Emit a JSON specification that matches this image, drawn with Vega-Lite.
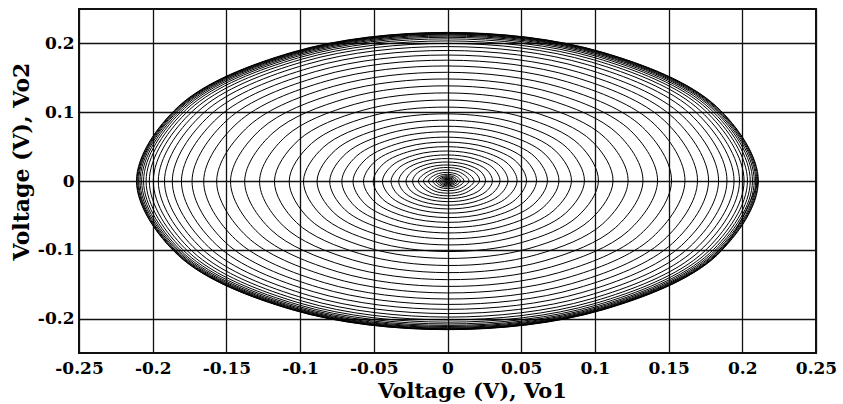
{
"$schema": "https://vega.github.io/schema/vega-lite/v6.json",
"width": 737, "height": 344,
"autosize": {"type": "none"},
"padding": {"left": 79, "top": 9, "right": 27, "bottom": 51},
"background": "white",
"config": {"view": {"stroke": "#111", "strokeWidth": 2}},
"data": {"values": [
{"i":0,"x":0.0010,"y":0},{"i":1,"x":0.0005,"y":0.0010},{"i":2,"x":-0.0006,"y":0.0010},{"i":3,"x":-0.0013,"y":0},{"i":4,"x":-0.0007,"y":-0.0012},{"i":5,"x":0.0007,"y":-0.0013},
{"i":6,"x":0.0015,"y":0},{"i":7,"x":0.0008,"y":0.0014},{"i":8,"x":-0.0008,"y":0.0015},{"i":9,"x":-0.0018,"y":0},{"i":10,"x":-0.0009,"y":-0.0016},{"i":11,"x":0.0010,"y":-0.0017},
{"i":12,"x":0.0020,"y":0},{"i":13,"x":0.0011,"y":0.0019},{"i":14,"x":-0.0011,"y":0.0020},{"i":15,"x":-0.0024,"y":0},{"i":16,"x":-0.0012,"y":-0.0022},{"i":17,"x":0.0013,"y":-0.0023},
{"i":18,"x":0.0027,"y":0},{"i":19,"x":0.0014,"y":0.0025},{"i":20,"x":-0.0015,"y":0.0026},{"i":21,"x":-0.0031,"y":0},{"i":22,"x":-0.0016,"y":-0.0029},{"i":23,"x":0.0017,"y":-0.0030},
{"i":24,"x":0.0035,"y":0},{"i":25,"x":0.0018,"y":0.0033},{"i":26,"x":-0.0019,"y":0.0034},{"i":27,"x":-0.0040,"y":0},{"i":28,"x":-0.0021,"y":-0.0037},{"i":29,"x":0.0022,"y":-0.0038},
{"i":30,"x":0.0045,"y":0},{"i":31,"x":0.0023,"y":0.0041},{"i":32,"x":-0.0024,"y":0.0043},{"i":33,"x":-0.0051,"y":0},{"i":34,"x":-0.0026,"y":-0.0047},{"i":35,"x":0.0027,"y":-0.0048},
{"i":36,"x":0.0056,"y":0},{"i":37,"x":0.0029,"y":0.0052},{"i":38,"x":-0.0030,"y":0.0054},{"i":39,"x":-0.0063,"y":0},{"i":40,"x":-0.0033,"y":-0.0058},{"i":41,"x":0.0034,"y":-0.0060},
{"i":42,"x":0.0070,"y":0},{"i":43,"x":0.0036,"y":0.0065},{"i":44,"x":-0.0038,"y":0.0067},{"i":45,"x":-0.0079,"y":0},{"i":46,"x":-0.0041,"y":-0.0073},{"i":47,"x":0.0043,"y":-0.0076},
{"i":48,"x":0.0088,"y":0},{"i":49,"x":0.0046,"y":0.0082},{"i":50,"x":-0.0048,"y":0.0085},{"i":51,"x":-0.0100,"y":0},{"i":52,"x":-0.0052,"y":-0.0092},{"i":53,"x":0.0054,"y":-0.0096},
{"i":54,"x":0.0112,"y":0},{"i":55,"x":0.0059,"y":0.0104},{"i":56,"x":-0.0062,"y":0.0109},{"i":57,"x":-0.0129,"y":0},{"i":58,"x":-0.0067,"y":-0.0119},{"i":59,"x":0.0070,"y":-0.0124},
{"i":60,"x":0.0146,"y":0},{"i":61,"x":0.0076,"y":0.0134},{"i":62,"x":-0.0079,"y":0.0139},{"i":63,"x":-0.0163,"y":0},{"i":64,"x":-0.0084,"y":-0.0149},{"i":65,"x":0.0087,"y":-0.0154},
{"i":66,"x":0.0180,"y":0},{"i":67,"x":0.0093,"y":0.0165},{"i":68,"x":-0.0096,"y":0.0170},{"i":69,"x":-0.0198,"y":0},{"i":70,"x":-0.0102,"y":-0.0182},{"i":71,"x":0.0105,"y":-0.0187},
{"i":72,"x":0.0217,"y":0},{"i":73,"x":0.0191,"y":0.0113},{"i":74,"x":0.0112,"y":0.0199},{"i":75,"x":0,"y":0.0233},{"i":76,"x":-0.0115,"y":0.0205},{"i":77,"x":-0.0203,"y":0.0120},{"i":78,"x":-0.0237,"y":0},{"i":79,"x":-0.0209,"y":-0.0123},{"i":80,"x":-0.0122,"y":-0.0217},{"i":81,"x":0,"y":-0.0254},{"i":82,"x":0.0126,"y":-0.0223},{"i":83,"x":0.0220,"y":-0.0130},
{"i":84,"x":0.0258,"y":0},{"i":85,"x":0.0227,"y":0.0134},{"i":86,"x":0.0133,"y":0.0236},{"i":87,"x":0,"y":0.0276},{"i":88,"x":-0.0137,"y":0.0243},{"i":89,"x":-0.0240,"y":0.0142},{"i":90,"x":-0.0282,"y":0},{"i":91,"x":-0.0247,"y":-0.0146},{"i":92,"x":-0.0145,"y":-0.0257},{"i":93,"x":0,"y":-0.0300},{"i":94,"x":0.0149,"y":-0.0264},{"i":95,"x":0.0261,"y":-0.0154},
{"i":96,"x":0.0305,"y":0},{"i":97,"x":0.0268,"y":0.0158},{"i":98,"x":0.0157,"y":0.0278},{"i":99,"x":0,"y":0.0326},{"i":100,"x":-0.0161,"y":0.0286},{"i":101,"x":-0.0283,"y":0.0167},{"i":102,"x":-0.0331,"y":0},{"i":103,"x":-0.0290,"y":-0.0172},{"i":104,"x":-0.0170,"y":-0.0301},{"i":105,"x":0,"y":-0.0352},{"i":106,"x":0.0174,"y":-0.0308},{"i":107,"x":0.0305,"y":-0.0180},
{"i":108,"x":0.0356,"y":0},{"i":109,"x":0.0312,"y":0.0185},{"i":110,"x":0.0183,"y":0.0324},{"i":111,"x":0,"y":0.0379},{"i":112,"x":-0.0187,"y":0.0332},{"i":113,"x":-0.0328,"y":0.0194},{"i":114,"x":-0.0383,"y":0},{"i":115,"x":-0.0336,"y":-0.0199},{"i":116,"x":-0.0196,"y":-0.0348},{"i":117,"x":0,"y":-0.0406},{"i":118,"x":0.0201,"y":-0.0356},{"i":119,"x":0.0351,"y":-0.0208},
{"i":120,"x":0.0410,"y":0},{"i":121,"x":0.0360,"y":0.0213},{"i":122,"x":0.0210,"y":0.0373},{"i":123,"x":0,"y":0.0436},{"i":124,"x":-0.0215,"y":0.0382},{"i":125,"x":-0.0377,"y":0.0223},{"i":126,"x":-0.0441,"y":0},{"i":127,"x":-0.0386,"y":-0.0228},{"i":128,"x":-0.0226,"y":-0.0400},{"i":129,"x":0,"y":-0.0467},{"i":130,"x":0.0231,"y":-0.0409},{"i":131,"x":0.0404,"y":-0.0239},
{"i":132,"x":0.0472,"y":0},{"i":133,"x":0.0413,"y":0.0244},{"i":134,"x":0.0241,"y":0.0428},{"i":135,"x":0,"y":0.0499},{"i":136,"x":-0.0247,"y":0.0437},{"i":137,"x":-0.0432,"y":0.0255},{"i":138,"x":-0.0504,"y":0},{"i":139,"x":-0.0441,"y":-0.0261},{"i":140,"x":-0.0257,"y":-0.0456},{"i":141,"x":0,"y":-0.0532},{"i":142,"x":0.0263,"y":-0.0466},{"i":143,"x":0.0460,"y":-0.0272},
{"i":144,"x":0.0536,"y":0},{"i":145,"x":0.0469,"y":0.0277},{"i":146,"x":0.0274,"y":0.0485},{"i":147,"x":0,"y":0.0566},{"i":148,"x":-0.0279,"y":0.0495},{"i":149,"x":-0.0489,"y":0.0289},{"i":150,"x":-0.0570,"y":0},{"i":151,"x":-0.0498,"y":-0.0295},{"i":152,"x":-0.0291,"y":-0.0515},{"i":153,"x":0,"y":-0.0601},{"i":154,"x":0.0296,"y":-0.0525},{"i":155,"x":0.0518,"y":-0.0306},
{"i":156,"x":0.0604,"y":0},{"i":157,"x":0.0528,"y":0.0312},{"i":158,"x":0.0308,"y":0.0546},{"i":159,"x":0,"y":0.0637},{"i":160,"x":-0.0314,"y":0.0558},{"i":161,"x":-0.0550,"y":0.0325},{"i":162,"x":-0.0641,"y":0},{"i":163,"x":-0.0561,"y":-0.0331},{"i":164,"x":-0.0327,"y":-0.0580},{"i":165,"x":0,"y":-0.0676},{"i":166,"x":0.0333,"y":-0.0591},{"i":167,"x":0.0582,"y":-0.0344},
{"i":168,"x":0.0678,"y":0},{"i":169,"x":0.0593,"y":0.0351},{"i":170,"x":0.0346,"y":0.0613},{"i":171,"x":0,"y":0.0715},{"i":172,"x":-0.0352,"y":0.0625},{"i":173,"x":-0.0616,"y":0.0364},{"i":174,"x":-0.0717,"y":0},{"i":175,"x":-0.0627,"y":-0.0371},{"i":176,"x":-0.0365,"y":-0.0648},{"i":177,"x":0,"y":-0.0755},{"i":178,"x":0.0372,"y":-0.0659},{"i":179,"x":0.0649,"y":-0.0384},
{"i":180,"x":0.0756,"y":0},{"i":181,"x":0.0661,"y":0.0391},{"i":182,"x":0.0385,"y":0.0683},{"i":183,"x":0,"y":0.0796},{"i":184,"x":-0.0392,"y":0.0696},{"i":185,"x":-0.0686,"y":0.0405},{"i":186,"x":-0.0799,"y":0},{"i":187,"x":-0.0698,"y":-0.0413},{"i":188,"x":-0.0406,"y":-0.0721},{"i":189,"x":0,"y":-0.0840},{"i":190,"x":0.0414,"y":-0.0733},{"i":191,"x":0.0722,"y":-0.0427},
{"i":192,"x":0.0841,"y":0},{"i":193,"x":0.0735,"y":0.0434},{"i":194,"x":0.0428,"y":0.0759},{"i":195,"x":0,"y":0.0884},{"i":196,"x":-0.0435,"y":0.0772},{"i":197,"x":-0.0760,"y":0.0450},{"i":198,"x":-0.0885,"y":0},{"i":199,"x":-0.0773,"y":-0.0457},{"i":200,"x":-0.0450,"y":-0.0798},{"i":201,"x":0,"y":-0.0929},{"i":202,"x":0.0457,"y":-0.0811},{"i":203,"x":0.0799,"y":-0.0472},
{"i":204,"x":0.0929,"y":0},{"i":205,"x":0.0812,"y":0.0480},{"i":206,"x":0.0473,"y":0.0838},{"i":207,"x":0,"y":0.0976},{"i":208,"x":-0.0481,"y":0.0852},{"i":209,"x":-0.0839,"y":0.0496},{"i":210,"x":-0.0977,"y":0},{"i":211,"x":-0.0853,"y":-0.0504},{"i":212,"x":-0.0496,"y":-0.0880},{"i":213,"x":0,"y":-0.1025},{"i":214,"x":0.0504,"y":-0.0894},{"i":215,"x":0.0880,"y":-0.0520},
{"i":216,"x":0.1024,"y":0},{"i":217,"x":0.0894,"y":0.0529},{"i":218,"x":0.0520,"y":0.0923},{"i":219,"x":0,"y":0.1074},{"i":220,"x":-0.0529,"y":0.0938},{"i":221,"x":-0.0923,"y":0.0545},{"i":222,"x":-0.1074,"y":0},{"i":223,"x":-0.0937,"y":-0.0554},{"i":224,"x":-0.0545,"y":-0.0967},{"i":225,"x":0,"y":-0.1125},{"i":226,"x":0.0553,"y":-0.0981},{"i":227,"x":0.0965,"y":-0.0571},
{"i":228,"x":0.1123,"y":0},{"i":229,"x":0.0980,"y":0.0579},{"i":230,"x":0.0570,"y":0.1011},{"i":231,"x":0,"y":0.1176},{"i":232,"x":-0.0578,"y":0.1026},{"i":233,"x":-0.1009,"y":0.0597},{"i":234,"x":-0.1174,"y":0},{"i":235,"x":-0.1024,"y":-0.0605},{"i":236,"x":-0.0595,"y":-0.1056},{"i":237,"x":0,"y":-0.1228},{"i":238,"x":0.0604,"y":-0.1071},{"i":239,"x":0.1053,"y":-0.0623},
{"i":240,"x":0.1225,"y":0},{"i":241,"x":0.1068,"y":0.0631},{"i":242,"x":0.0621,"y":0.1101},{"i":243,"x":0,"y":0.1280},{"i":244,"x":-0.0629,"y":0.1116},{"i":245,"x":-0.1097,"y":0.0649},{"i":246,"x":-0.1275,"y":0},{"i":247,"x":-0.1112,"y":-0.0657},{"i":248,"x":-0.0646,"y":-0.1146},{"i":249,"x":0,"y":-0.1332},{"i":250,"x":0.0655,"y":-0.1161},{"i":251,"x":0.1141,"y":-0.0675},
{"i":252,"x":0.1326,"y":0},{"i":253,"x":0.1156,"y":0.0683},{"i":254,"x":0.0671,"y":0.1191},{"i":255,"x":0,"y":0.1383},{"i":256,"x":-0.0680,"y":0.1205},{"i":257,"x":-0.1184,"y":0.0700},{"i":258,"x":-0.1376,"y":0},{"i":259,"x":-0.1198,"y":-0.0708},{"i":260,"x":-0.0696,"y":-0.1234},{"i":261,"x":0,"y":-0.1434},{"i":262,"x":0.0704,"y":-0.1249},{"i":263,"x":0.1227,"y":-0.0725},
{"i":264,"x":0.1425,"y":0},{"i":265,"x":0.1241,"y":0.0734},{"i":266,"x":0.0720,"y":0.1277},{"i":267,"x":0,"y":0.1483},{"i":268,"x":-0.0728,"y":0.1292},{"i":269,"x":-0.1268,"y":0.0750},{"i":270,"x":-0.1472,"y":0},{"i":271,"x":-0.1282,"y":-0.0758},{"i":272,"x":-0.0744,"y":-0.1320},{"i":273,"x":0,"y":-0.1532},{"i":274,"x":0.0752,"y":-0.1334},{"i":275,"x":0.1309,"y":-0.0774},
{"i":276,"x":0.1520,"y":0},{"i":277,"x":0.1323,"y":0.0782},{"i":278,"x":0.0767,"y":0.1361},{"i":279,"x":0,"y":0.1580},{"i":280,"x":-0.0775,"y":0.1375},{"i":281,"x":-0.1349,"y":0.0798},{"i":282,"x":-0.1566,"y":0},{"i":283,"x":-0.1362,"y":-0.0805},{"i":284,"x":-0.0790,"y":-0.1402},{"i":285,"x":0,"y":-0.1627},{"i":286,"x":0.0798,"y":-0.1415},{"i":287,"x":0.1389,"y":-0.0821},
{"i":288,"x":0.1611,"y":0},{"i":289,"x":0.1402,"y":0.0829},{"i":290,"x":0.0813,"y":0.1441},{"i":291,"x":0,"y":0.1672},{"i":292,"x":-0.0820,"y":0.1454},{"i":293,"x":-0.1426,"y":0.0843},{"i":294,"x":-0.1654,"y":0},{"i":295,"x":-0.1438,"y":-0.0850},{"i":296,"x":-0.0834,"y":-0.1479},{"i":297,"x":0,"y":-0.1715},{"i":298,"x":0.0841,"y":-0.1492},{"i":299,"x":0.1463,"y":-0.0865},
{"i":300,"x":0.1696,"y":0},{"i":301,"x":0.1474,"y":0.0872},{"i":302,"x":0.0854,"y":0.1515},{"i":303,"x":0,"y":0.1756},{"i":304,"x":-0.0860,"y":0.1526},{"i":305,"x":-0.1496,"y":0.0884},{"i":306,"x":-0.1733,"y":0},{"i":307,"x":-0.1507,"y":-0.0891},{"i":308,"x":-0.0873,"y":-0.1548},{"i":309,"x":0,"y":-0.1794},{"i":310,"x":0.0879,"y":-0.1559},{"i":311,"x":0.1528,"y":-0.0903},
{"i":312,"x":0.1771,"y":0},{"i":313,"x":0.1538,"y":0.0909},{"i":314,"x":0.0891,"y":0.1580},{"i":315,"x":0,"y":0.1831},{"i":316,"x":-0.0897,"y":0.1590},{"i":317,"x":-0.1558,"y":0.0921},{"i":318,"x":-0.1805,"y":0},{"i":319,"x":-0.1568,"y":-0.0927},{"i":320,"x":-0.0908,"y":-0.1610},{"i":321,"x":0,"y":-0.1865},{"i":322,"x":0.0914,"y":-0.1620},{"i":323,"x":0.1587,"y":-0.0938},
{"i":324,"x":0.1839,"y":0},{"i":325,"x":0.1596,"y":0.0944},{"i":326,"x":0.0924,"y":0.1639},{"i":327,"x":0,"y":0.1897},{"i":328,"x":-0.0929,"y":0.1647},{"i":329,"x":-0.1613,"y":0.0954},{"i":330,"x":-0.1867,"y":0},{"i":331,"x":-0.1621,"y":-0.0959},{"i":332,"x":-0.0938,"y":-0.1665},{"i":333,"x":0,"y":-0.1927},{"i":334,"x":0.0943,"y":-0.1673},{"i":335,"x":0.1638,"y":-0.0968},
{"i":336,"x":0.1896,"y":0},{"i":337,"x":0.1646,"y":0.0973},{"i":338,"x":0.0952,"y":0.1689},{"i":339,"x":0,"y":0.1954},{"i":340,"x":-0.0956,"y":0.1696},{"i":341,"x":-0.1659,"y":0.0981},{"i":342,"x":-0.1920,"y":0},{"i":343,"x":-0.1666,"y":-0.0985},{"i":344,"x":-0.0964,"y":-0.1710},{"i":345,"x":0,"y":-0.1978},{"i":346,"x":0.0968,"y":-0.1717},{"i":347,"x":0.1680,"y":-0.0993},
{"i":348,"x":0.1944,"y":0},{"i":349,"x":0.1686,"y":0.0997},{"i":350,"x":0.0975,"y":0.1729},{"i":351,"x":0,"y":0.2000},{"i":352,"x":-0.0978,"y":0.1735},{"i":353,"x":-0.1697,"y":0.1003},{"i":354,"x":-0.1962,"y":0},{"i":355,"x":-0.1702,"y":-0.1006},{"i":356,"x":-0.0984,"y":-0.1746},{"i":357,"x":0,"y":-0.2019},{"i":358,"x":0.0987,"y":-0.1751},{"i":359,"x":0.1713,"y":-0.1013},
{"i":360,"x":0.1981,"y":0},{"i":361,"x":0.1718,"y":0.1016},{"i":362,"x":0.0993,"y":0.1761},{"i":363,"x":0,"y":0.2036},{"i":364,"x":-0.0996,"y":0.1766},{"i":365,"x":-0.1727,"y":0.1021},{"i":366,"x":-0.1996,"y":0},{"i":367,"x":-0.1731,"y":-0.1023},{"i":368,"x":-0.1001,"y":-0.1775},{"i":369,"x":0,"y":-0.2052},{"i":370,"x":0.1003,"y":-0.1779},{"i":371,"x":0.1740,"y":-0.1029},
{"i":372,"x":0.2012,"y":0},{"i":373,"x":0.1744,"y":0.1031},{"i":374,"x":0.1008,"y":0.1787},{"i":375,"x":0,"y":0.2066},{"i":376,"x":-0.1010,"y":0.1791},{"i":377,"x":-0.1751,"y":0.1035},{"i":378,"x":-0.2023,"y":0},{"i":379,"x":-0.1754,"y":-0.1037},{"i":380,"x":-0.1014,"y":-0.1798},{"i":381,"x":0,"y":-0.2078},{"i":382,"x":0.1016,"y":-0.1801},{"i":383,"x":0.1761,"y":-0.1041},
{"i":384,"x":0.2035,"y":0},{"i":385,"x":0.1764,"y":0.1043},{"i":386,"x":0.1019,"y":0.1808},{"i":387,"x":0,"y":0.2089},{"i":388,"x":-0.1021,"y":0.1811},{"i":389,"x":-0.1769,"y":0.1046},{"i":390,"x":-0.2045,"y":0},{"i":391,"x":-0.1772,"y":-0.1048},{"i":392,"x":-0.1024,"y":-0.1816},{"i":393,"x":0,"y":-0.2099},{"i":394,"x":0.1026,"y":-0.1819},{"i":395,"x":0.1778,"y":-0.1051},
{"i":396,"x":0.2054,"y":0},{"i":397,"x":0.1780,"y":0.1052},{"i":398,"x":0.1028,"y":0.1824},{"i":399,"x":0,"y":0.2107},{"i":400,"x":-0.1030,"y":0.1826},{"i":401,"x":-0.1784,"y":0.1055},{"i":402,"x":-0.2062,"y":0},{"i":403,"x":-0.1787,"y":-0.1056},{"i":404,"x":-0.1032,"y":-0.1831},{"i":405,"x":0,"y":-0.2115},{"i":406,"x":0.1033,"y":-0.1833},{"i":407,"x":0.1791,"y":-0.1059},
{"i":408,"x":0.2069,"y":0},{"i":409,"x":0.1793,"y":0.1060},{"i":410,"x":0.1036,"y":0.1837},{"i":411,"x":0,"y":0.2122},{"i":412,"x":-0.1037,"y":0.1839},{"i":413,"x":-0.1796,"y":0.1062},{"i":414,"x":-0.2075,"y":0},{"i":415,"x":-0.1798,"y":-0.1063},{"i":416,"x":-0.1039,"y":-0.1842},{"i":417,"x":0,"y":-0.2128},{"i":418,"x":0.1040,"y":-0.1844},{"i":419,"x":0.1802,"y":-0.1065},
{"i":420,"x":0.2081,"y":0},{"i":421,"x":0.1803,"y":0.1066},{"i":422,"x":0.1041,"y":0.1847},{"i":423,"x":0,"y":0.2134},{"i":424,"x":-0.1042,"y":0.1849},{"i":425,"x":-0.1806,"y":0.1068},{"i":426,"x":-0.2086,"y":0},{"i":427,"x":-0.1807,"y":-0.1069},{"i":428,"x":-0.1044,"y":-0.1851},{"i":429,"x":0,"y":-0.2139},{"i":430,"x":0.1045,"y":-0.1853},{"i":431,"x":0.1810,"y":-0.1070},
{"i":432,"x":0.2091,"y":0},{"i":433,"x":0.1811,"y":0.1071},{"i":434,"x":0.1046,"y":0.1855},{"i":435,"x":0,"y":0.2143},{"i":436,"x":-0.1047,"y":0.1856},{"i":437,"x":-0.1813,"y":0.1072},{"i":438,"x":-0.2095,"y":0},{"i":439,"x":-0.1815,"y":-0.1073},{"i":440,"x":-0.1048,"y":-0.1859},{"i":441,"x":0,"y":-0.2147},{"i":442,"x":0.1049,"y":-0.1860},{"i":443,"x":0.1817,"y":-0.1074},
{"i":444,"x":0.2098,"y":0},{"i":445,"x":0.1818,"y":0.1075},{"i":446,"x":0.1050,"y":0.1862},{"i":447,"x":0,"y":0.2150},{"i":448,"x":-0.1050,"y":0.1863},{"i":449,"x":-0.1819,"y":0.1076},{"i":450,"x":-0.2101,"y":0},{"i":451,"x":-0.1820,"y":-0.1076},{"i":452,"x":-0.1051,"y":-0.1864},{"i":453,"x":0,"y":-0.2153},{"i":454,"x":0.1052,"y":-0.1865},{"i":455,"x":0.1822,"y":-0.1077},
{"i":456,"x":0.2105,"y":0},{"i":457,"x":0.1823,"y":0.1078},{"i":458,"x":0.1053,"y":0.1867},{"i":459,"x":0,"y":0.2156},{"i":460,"x":-0.1053,"y":0.1867},{"i":461,"x":-0.1824,"y":0.1078},{"i":462,"x":-0.2107,"y":0},{"i":463,"x":-0.1825,"y":-0.1079},{"i":464,"x":-0.1054,"y":-0.1869},{"i":465,"x":0,"y":-0.2158},{"i":466,"x":0.1054,"y":-0.1869},{"i":467,"x":0.1826,"y":-0.1079},
{"i":468,"x":0.2109,"y":0},{"i":469,"x":0.1826,"y":0.1080},{"i":470,"x":0.1054,"y":0.1870},{"i":471,"x":0,"y":0.2160},{"i":472,"x":-0.1055,"y":0.1871},{"i":473,"x":-0.1827,"y":0.1080},{"i":474,"x":-0.2110,"y":0},{"i":475,"x":-0.1827,"y":-0.1080},{"i":476,"x":-0.1055,"y":-0.1871},{"i":477,"x":0,"y":-0.2161},{"i":478,"x":0.1055,"y":-0.1872},{"i":479,"x":0.1828,"y":-0.1081},
{"i":480,"x":0.2111,"y":0}
]},
"mark": {"type": "line", "interpolate": "catmull-rom", "color": "black", "strokeWidth": 1, "clip": true},
"encoding": {
"x": {"field": "x", "type": "quantitative",
 "scale": {"domain": [-0.25, 0.25], "nice": false, "zero": false},
 "axis": {"title": "Voltage (V), Vo1", "values": [-0.25,-0.2,-0.15,-0.1,-0.05,0,0.05,0.1,0.15,0.2,0.25],
  "labelExpr": "'' + datum.value", "grid": true, "gridColor": "#111", "gridWidth": 1.3, "gridOpacity": 1,
  "domain": false, "ticks": false, "labelFont": "DejaVu Serif", "labelFontWeight": "bold", "labelFontSize": 17,
  "labelColor": "black", "labelPadding": 7, "labelFlush": false, "labelOverlap": false,
  "titleFont": "DejaVu Serif", "titleFontWeight": "bold", "titleFontSize": 21, "titleColor": "black", "titlePadding": 4, "titleX": 393}},
"y": {"field": "y", "type": "quantitative",
 "scale": {"domain": [-0.25, 0.25], "nice": false, "zero": false},
 "axis": {"title": "Voltage (V), Vo2", "values": [-0.2,-0.1,0,0.1,0.2],
  "labelExpr": "'' + datum.value", "grid": true, "gridColor": "#111", "gridWidth": 1.3, "gridOpacity": 1,
  "domain": false, "ticks": false, "labelFont": "DejaVu Serif", "labelFontWeight": "bold", "labelFontSize": 17,
  "labelColor": "black", "labelPadding": 5, "labelFlush": false, "labelOverlap": false,
  "titleFont": "DejaVu Serif", "titleFontWeight": "bold", "titleFontSize": 22, "titleColor": "black", "titlePadding": 4, "titleY": 152}},
"order": {"field": "i", "type": "quantitative"}
}
}
